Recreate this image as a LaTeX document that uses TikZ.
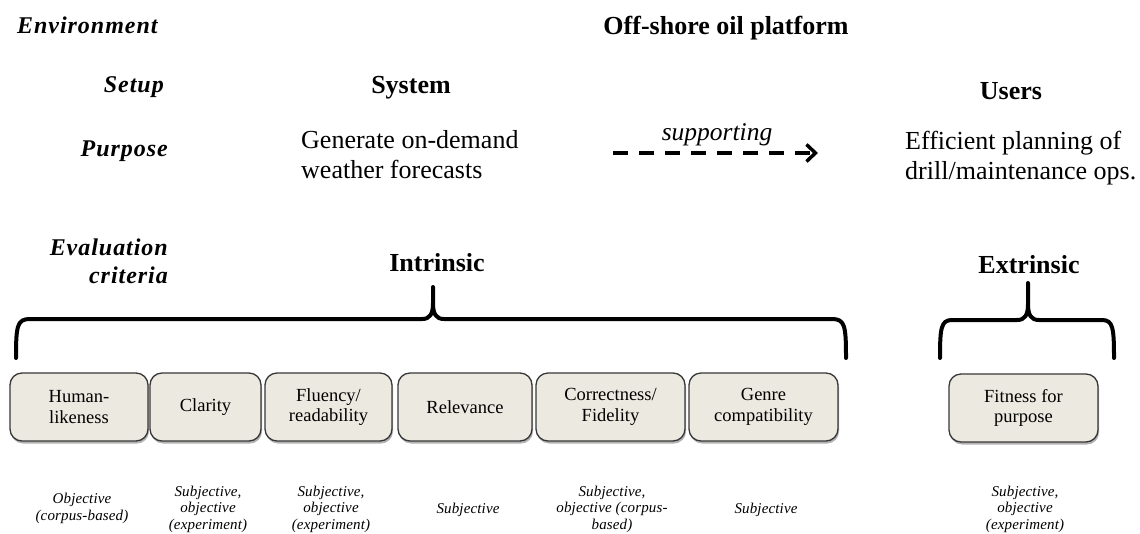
\documentclass[tikz,border=0pt]{standalone}
\usepackage{fontspec}
\setmainfont{Liberation Serif}
\usetikzlibrary{arrows.meta,shadows}
\definecolor{boxfill}{RGB}{236,233,224}
\definecolor{boxline}{RGB}{55,55,55}
\tikzset{
  lbl/.style={font=\fontsize{24}{28}\selectfont\bfseries\itshape\addfontfeature{LetterSpace=4}, inner sep=0},
  head/.style={font=\fontsize{26}{30}\selectfont\bfseries, inner sep=0},
  desc/.style={font=\fontsize{26}{30}\selectfont, inner sep=0, align=left},
  crit/.style={draw=boxline, line width=1.3pt, fill=boxfill, rounded corners=12pt,
    minimum height=68pt, inner sep=0, align=center, font=\fontsize{18.5}{20.5}\selectfont,
    drop shadow={shadow xshift=1pt, shadow yshift=-2.5pt, opacity=0.3, fill=black}},
  meth/.style={font=\fontsize{15}{16.5}\selectfont\itshape\addfontfeature{LetterSpace=1}, inner sep=0, align=center},
  brace/.style={line width=4pt, line cap=round, line join=round},
  supp/.style={line width=4pt, dash pattern=on 15pt off 11pt, -{Straight Barb[length=9pt,width=17pt,line width=3.5pt]}}
}
\begin{document}
\begin{tikzpicture}[x=1pt,y=-1pt]
\useasboundingbox (0,0) rectangle (1140,533);
% left labels
\node[lbl, anchor=base west] (env) at (17,33) {Environment};
\node[lbl, anchor=base east] (setup) at (164,92) {Setup};
\node[lbl, anchor=base east] (purp) at (168,156) {Purpose};
\node[lbl, anchor=base east, align=right] (eval) at (168,283) {Evaluation\\criteria};
% headings
\node[head, anchor=base] (plat) at (726,34) {Off-shore oil platform};
\node[head, anchor=base] (sys) at (411,93) {System};
\node[head, anchor=base] (users) at (1011,99) {Users};
\node[desc, anchor=base west] (gen) at (301,178) {Generate on-demand\\weather forecasts};
\node[desc, anchor=base west] (eff) at (905,179) {Efficient planning of\\drill/maintenance ops.};
% supporting arrow
\coordinate (sa) at (613,153);
\coordinate (sb) at (818,153);
\draw[supp] (sa) -- (sb);
\node[font=\fontsize{25.5}{29}\selectfont\itshape, inner sep=0, anchor=base] (suppl) at (717,140) {supporting};
% intrinsic / extrinsic
\node[head, anchor=base] (intr) at (437,271) {Intrinsic};
\node[head, anchor=base] (extr) at (1029,273) {Extrinsic};
\draw[brace] (16,358) .. controls (16,326) and (17,319) .. (30,319) -- (422,319)
  .. controls (430,319) and (433,314) .. (433,303) -- (433,287) -- (433,303)
  .. controls (433,314) and (436,319) .. (444,319) -- (832,319)
  .. controls (845,319) and (846,326) .. (846,358);
\draw[brace] (940,358) .. controls (940,328) and (941,320) .. (952,320) -- (1017,320)
  .. controls (1025,320) and (1028,315) .. (1028,304) -- (1028,283) -- (1028,304)
  .. controls (1028,315) and (1031,320) .. (1039,320) -- (1102,320)
  .. controls (1113,320) and (1114,328) .. (1114,358);
% criteria boxes
\node[crit, minimum width=138pt] (b1) at (79,407) {Human-\\likeness};
\node[crit, minimum width=111pt] (b2) at (205.5,407) {Clarity};
\node[crit, minimum width=127pt] (b3) at (328.5,407) {Fluency/\\readability};
\node[crit, minimum width=134pt] (b4) at (465,407) {Relevance};
\node[crit, minimum width=149pt] (b5) at (610.5,407) {Correctness/\\Fidelity};
\node[crit, minimum width=149pt] (b6) at (763.5,407) {Genre\\compatibility};
\node[crit, minimum width=149pt] (b7) at (1023.5,408) {Fitness for\\purpose};
% methods
\node[meth, anchor=base] (m1) at (82,520) {Objective\\(corpus-based)};
\node[meth, anchor=base] (m2) at (208,529) {Subjective,\\objective\\(experiment)};
\node[meth, anchor=base] (m3) at (331,529) {Subjective,\\objective\\(experiment)};
\node[meth, anchor=base] (m4) at (468,513) {Subjective};
\node[meth, anchor=base] (m5) at (612,529) {Subjective,\\objective (corpus-\\based)};
\node[meth, anchor=base] (m6) at (766,513) {Subjective};
\node[meth, anchor=base] (m7) at (1025,529) {Subjective,\\objective\\(experiment)};
\end{tikzpicture}
\end{document}
